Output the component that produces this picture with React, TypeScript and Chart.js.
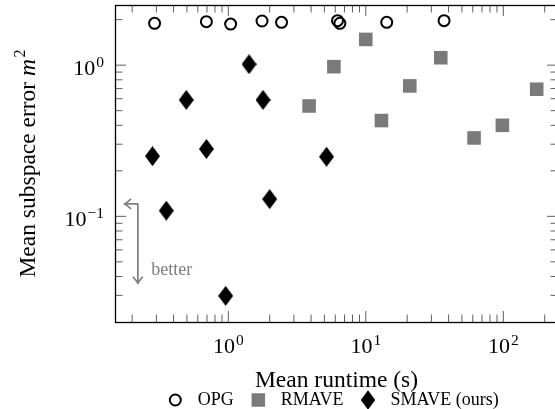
import React, { useEffect, useRef } from "react";
import { Chart, registerables } from "chart.js";

Chart.register(...registerables);

// ---- data ----
const seriesNames = ["OPG", "RMAVE", "SMAVE (ours)"];

const opgRuntime = [0.291, 0.693, 1.04, 1.76, 2.44, 6.23, 6.48, 14.2, 37.1];
const opgError = [1.89, 1.94, 1.87, 1.96, 1.92, 1.97, 1.89, 1.92, 1.97];

const rmaveRuntime = [3.87, 5.86, 10.0, 13.0, 20.9, 35.1, 61.3, 98.5, 175];
const rmaveError = [0.537, 0.977, 1.48, 0.43, 0.729, 1.12, 0.33, 0.4, 0.693];

const smaveRuntime = [0.281, 0.354, 0.495, 0.693, 0.957, 1.415, 1.789, 2.0, 5.18];
const smaveError = [0.25, 0.109, 0.589, 0.279, 0.0298, 1.014, 0.589, 0.13, 0.248];

const xRange = [0.15, 250];
const yRange = [0.02, 2.5];
const xTickValues = [1, 10, 100];
const xTickExponents = ["0", "1", "2"];
const yTickValues = [0.1, 1];
const yTickExponents = ["\u22121", "0"];

const xTitle = "Mean runtime (s)";
const yTitleText = "Mean subspace error ";
const yTitleVar = "m";
const yTitleSup = "2";

const annotationText = "better";
// annotation anchor points in data units
const annCorner = { x: 0.22, y: 0.1208 };
const annLeftTip = { x: 0.176, y: 0.1208 };
const annBottomTip = { x: 0.22, y: 0.0361 };
const annTextPos = { x: 0.275, y: 0.041 };

// ---- styles ----
const SERIF = '"Liberation Serif", "Times New Roman", serif';
const GRAY = "#7a7a7a";
const ANN_GRAY = "#7d7d7d";

function makeDiamond(w: number, h: number): HTMLCanvasElement {
  const c = document.createElement("canvas");
  c.width = w;
  c.height = h;
  const g = c.getContext("2d")!;
  g.fillStyle = "#000";
  g.beginPath();
  g.moveTo(w / 2, 0);
  g.lineTo(w, h / 2);
  g.lineTo(w / 2, h);
  g.lineTo(0, h / 2);
  g.closePath();
  g.fill();
  return c;
}

function drawPow(
  ctx: CanvasRenderingContext2D,
  exp: string,
  x: number,
  y: number,
  align: "center" | "right"
) {
  const baseFont = `22px ${SERIF}`;
  const supFont = `15.5px ${SERIF}`;
  ctx.font = baseFont;
  const wb = ctx.measureText("10").width;
  ctx.font = supFont;
  const ws = ctx.measureText(exp).width;
  const total = wb + 1 + ws;
  const sx = align === "center" ? x - total / 2 : x - total;
  ctx.textAlign = "left";
  ctx.textBaseline = "alphabetic";
  ctx.font = baseFont;
  ctx.fillText("10", sx, y);
  ctx.font = supFont;
  ctx.fillText(exp, sx + wb + 1, y - 8);
}

const decor = {
  id: "decor",
  afterDatasetsDraw(chart: any) {
    const { ctx, chartArea: ca, scales } = chart;
    const xs = scales.x;
    const ys = scales.y;
    ctx.save();

    // minor / major ticks on all four sides, pointing inward
    const MAJ = 11;
    const MIN = 7.5;
    ctx.strokeStyle = "rgba(0,0,0,0.8)";
    ctx.lineWidth = 0.8;
    const seg = (x1: number, y1: number, x2: number, y2: number) => {
      ctx.beginPath();
      ctx.moveTo(x1, y1);
      ctx.lineTo(x2, y2);
      ctx.stroke();
    };
    for (let e = -3; e <= 3; e++) {
      for (let k = 1; k <= 9; k++) {
        const v = k * Math.pow(10, e);
        const L = k === 1 ? MAJ : MIN;
        if (v > xRange[0] * 1.0001 && v < xRange[1] * 0.9999) {
          const px = xs.getPixelForValue(v);
          seg(px, ca.bottom, px, ca.bottom - L);
          seg(px, ca.top, px, ca.top + L);
        }
        if (v > yRange[0] * 1.0001 && v < yRange[1] * 0.9999) {
          const py = ys.getPixelForValue(v);
          seg(ca.left, py, ca.left + L, py);
          seg(ca.right, py, ca.right - L, py);
        }
      }
    }

    // frame
    ctx.strokeStyle = "#000";
    ctx.lineWidth = 1.3;
    ctx.strokeRect(ca.left + 0.5, ca.top + 0.5, ca.right - ca.left, ca.bottom - ca.top);

    // tick labels
    ctx.fillStyle = "#000";
    xTickValues.forEach((v, i) => {
      drawPow(ctx, xTickExponents[i], xs.getPixelForValue(v), ca.bottom + 31, "center");
    });
    yTickValues.forEach((v, i) => {
      drawPow(ctx, yTickExponents[i], ca.left - 11, ys.getPixelForValue(v) + 10, "right");
    });

    // x title
    ctx.font = `23.5px ${SERIF}`;
    ctx.textAlign = "center";
    ctx.textBaseline = "alphabetic";
    ctx.fillText(xTitle, (ca.left + ca.right) / 2, ca.bottom + 65);

    // y title (rotated)
    {
      const fRoman = `23.5px ${SERIF}`;
      const fItal = `italic 23.5px ${SERIF}`;
      const fSup = `16px ${SERIF}`;
      ctx.font = fRoman;
      const w1 = ctx.measureText(yTitleText).width;
      ctx.font = fItal;
      const w2 = ctx.measureText(yTitleVar).width;
      ctx.font = fSup;
      const w3 = ctx.measureText(yTitleSup).width;
      const total = w1 + w2 + 1.5 + w3;
      ctx.save();
      ctx.translate(34.5, (ca.top + ca.bottom) / 2);
      ctx.rotate(-Math.PI / 2);
      ctx.textAlign = "left";
      let x0 = -total / 2;
      ctx.font = fRoman;
      ctx.fillText(yTitleText, x0, 0);
      x0 += w1;
      ctx.font = fItal;
      ctx.fillText(yTitleVar, x0, 0);
      x0 += w2 + 1.5;
      ctx.font = fSup;
      ctx.fillText(yTitleSup, x0, -10);
      ctx.restore();
    }

    // "better" annotation
    {
      const cx = xs.getPixelForValue(annCorner.x);
      const cy = ys.getPixelForValue(annCorner.y);
      const lx = xs.getPixelForValue(annLeftTip.x);
      const by = ys.getPixelForValue(annBottomTip.y);
      ctx.strokeStyle = ANN_GRAY;
      ctx.lineWidth = 1.7;
      ctx.lineCap = "round";
      ctx.lineJoin = "round";
      ctx.beginPath();
      ctx.moveTo(lx, cy);
      ctx.lineTo(cx, cy);
      ctx.lineTo(cx, by);
      ctx.stroke();
      // left arrow head
      ctx.beginPath();
      ctx.moveTo(lx + 6, cy - 4.5);
      ctx.quadraticCurveTo(lx + 2, cy - 1, lx, cy);
      ctx.quadraticCurveTo(lx + 2, cy + 1, lx + 6, cy + 4.5);
      ctx.stroke();
      // down arrow head
      ctx.beginPath();
      ctx.moveTo(cx - 4.5, by - 6);
      ctx.quadraticCurveTo(cx - 1, by - 2, cx, by);
      ctx.quadraticCurveTo(cx + 1, by - 2, cx + 4.5, by - 6);
      ctx.stroke();
      ctx.fillStyle = ANN_GRAY;
      ctx.font = `18px ${SERIF}`;
      ctx.textAlign = "left";
      ctx.fillText(annotationText, xs.getPixelForValue(annTextPos.x), ys.getPixelForValue(annTextPos.y));
    }

    // legend (below x title)
    {
      const legendY = 400;
      const textBase = 404.5;
      const markerToText = 22.5;
      const textToMarker = 24.5;
      ctx.font = `18px ${SERIF}`;
      const widths = seriesNames.map((s) => ctx.measureText(s).width);
      let total = 7;
      widths.forEach((w, i) => {
        total += markerToText + w + (i < widths.length - 1 ? textToMarker : 0);
      });
      const centerX = (ca.left + ca.right) / 2 - 3;
      let mx = centerX - total / 2 + 7;
      seriesNames.forEach((name, i) => {
        if (i === 0) {
          ctx.strokeStyle = "#000";
          ctx.lineWidth = 2;
          ctx.beginPath();
          ctx.arc(mx, legendY, 5.5, 0, Math.PI * 2);
          ctx.stroke();
        } else if (i === 1) {
          ctx.fillStyle = GRAY;
          ctx.fillRect(mx - 6.75, legendY - 6.75, 13.5, 13.5);
        } else {
          ctx.fillStyle = "#000";
          ctx.beginPath();
          ctx.moveTo(mx, legendY - 9.75);
          ctx.lineTo(mx + 7.25, legendY);
          ctx.lineTo(mx, legendY + 9.75);
          ctx.lineTo(mx - 7.25, legendY);
          ctx.closePath();
          ctx.fill();
        }
        ctx.fillStyle = "#000";
        ctx.font = `18px ${SERIF}`;
        ctx.textAlign = "left";
        ctx.fillText(name, mx + markerToText, textBase);
        mx += markerToText + widths[i] + textToMarker;
      });
    }

    ctx.restore();
  },
};

export default function App() {
  const ref = useRef<HTMLCanvasElement>(null);

  useEffect(() => {
    const canvas = ref.current;
    if (!canvas) return;
    const diamond = makeDiamond(15, 20);
    const chart = new Chart(canvas, {
      type: "scatter",
      data: {
        datasets: [
          {
            label: seriesNames[0],
            data: opgRuntime.map((x, i) => ({ x, y: opgError[i] })),
            pointStyle: "circle",
            pointRadius: 5.5,
            borderWidth: 2,
            borderColor: "#000",
            backgroundColor: "rgba(0,0,0,0)",
          },
          {
            label: seriesNames[1],
            data: rmaveRuntime.map((x, i) => ({ x, y: rmaveError[i] })),
            pointStyle: "rect",
            pointRadius: 9.6,
            borderWidth: 0,
            borderColor: GRAY,
            backgroundColor: GRAY,
          },
          {
            label: seriesNames[2],
            data: smaveRuntime.map((x, i) => ({ x, y: smaveError[i] })),
            pointStyle: diamond as any,
            pointRadius: 10,
            borderWidth: 0,
            backgroundColor: "#000",
          },
        ],
      },
      options: {
        responsive: false,
        animation: false,
        devicePixelRatio: 1,
        events: [],
        layout: {
          autoPadding: false,
          padding: { left: 115, top: 5, right: 2, bottom: 87 },
        },
        scales: {
          x: { type: "logarithmic", min: xRange[0], max: xRange[1], display: false },
          y: { type: "logarithmic", min: yRange[0], max: yRange[1], display: false },
        },
        plugins: {
          legend: { display: false },
          tooltip: { enabled: false },
        },
      } as any,
      plugins: [decor as any],
    });
    return () => chart.destroy();
  }, []);

  return (
    <div
      style={{
        position: "fixed",
        left: 0,
        top: 0,
        width: 555,
        height: 409,
        overflow: "hidden",
        background: "#fff",
      }}
    >
      <canvas
        ref={ref}
        width={560}
        height={409}
        style={{ display: "block", width: 560, height: 409 }}
      />
    </div>
  );
}
